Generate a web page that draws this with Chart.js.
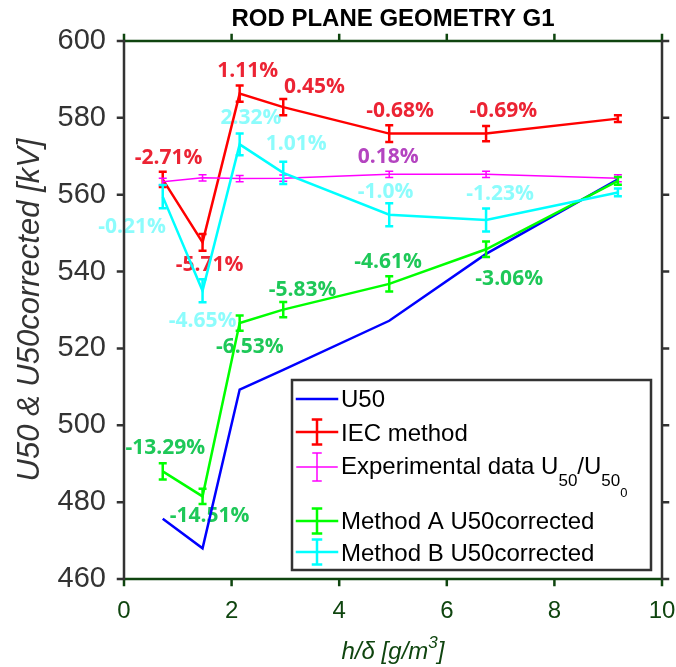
<!DOCTYPE html>
<html>
<head>
<meta charset="utf-8">
<title>Rod plane geometry G1</title>
<script src="https://cdn.jsdelivr.net/npm/chart.js@4.4.1/dist/chart.umd.min.js"></script>
<style>
  html, body { margin: 0; padding: 0; background: #fff; }
  canvas { display: block; }
</style>
</head>
<body>
<canvas id="chart" width="676" height="667"></canvas>
<script>
// h/δ of each test series [g/m3]
const hd = [0.72, 1.46, 2.15, 2.96, 4.93, 6.73, 9.18];

// U50 values [kV] and their error half-widths
const u50 = [475.7, 468.0, 509.3, 514.4, 527.2, 544.6, 564.0];
const iec = [564.0, 547.6, 586.3, 582.8, 575.9, 575.9, 579.8];
const iecErr = [2.0, 2.2, 2.1, 2.1, 2.2, 2.0, 0.9];
const experimental = [563.4, 564.4, 564.2, 564.3, 565.3, 565.3, 564.3];
const experimentalErr = [0.9, 0.8, 0.8, 0.8, 0.8, 0.8, 0.9];
const methodA = [488.0, 481.5, 526.6, 530.1, 536.8, 545.8, 563.6];
const methodAErr = [2.1, 2.0, 2.0, 2.0, 2.0, 2.0, 1.0];
const methodB = [559.5, 535.0, 573.1, 565.7, 554.8, 553.4, 560.6];
const methodBErr = [3.0, 3.0, 2.8, 2.9, 3.0, 3.0, 1.0];

const xTicks = [0, 2, 4, 6, 8, 10];
const yTicks = [460, 480, 500, 520, 540, 560, 580, 600];

// deviation notes: text, anchor in data units, colour
const noteText = ['-2.71%', '-5.71%', '1.11%', '0.45%', '-0.68%', '-0.69%',
                  '-0.21%', '-4.65%', '2.32%', '1.01%', '-1.0%', '-1.23%',
                  '0.18%',
                  '-13.29%', '-14.51%', '-6.53%', '-5.83%', '-4.61%', '-3.06%'];
const noteX = [0.83, 1.59, 2.30, 3.54, 5.13, 7.05,
               0.15, 1.46, 2.36, 3.20, 4.86, 6.99,
               4.91,
               0.77, 1.59, 2.34, 3.32, 4.91, 7.16];
const noteY = [569.6, 541.6, 592.2, 587.9, 581.7, 581.7,
               551.5, 527.2, 580.0, 573.1, 560.8, 560.1,
               569.8,
               494.1, 476.3, 520.3, 535.1, 542.4, 538.1];
const noteColor = ['#ec2434', '#ec2434', '#ec2434', '#ec2434', '#ec2434', '#ec2434',
                   '#8cfcfc', '#8cfcfc', '#8cfcfc', '#8cfcfc', '#8cfcfc', '#8cfcfc',
                   '#b444c0',
                   '#1ec858', '#1ec858', '#1ec858', '#1ec858', '#1ec858', '#1ec858'];

const AXIS_GREEN = '#0f450f';
const AXIS_GREY = '#333333';
const SANS = "'Liberation Sans', Arial, sans-serif";

function points(values) {
    return hd.map((x, i) => ({ x: x, y: values[i] }));
}

// error bars drawn right after their own line
const errorBars = {
    id: 'errorBars',
    afterDatasetDraw(chart, args) {
        const ds = chart.data.datasets[args.index];
        if (!ds.errors) return;
        const { ctx, scales: { x, y } } = chart;
        ctx.save();
        ctx.strokeStyle = ds.borderColor;
        ctx.lineWidth = ds.errorWidth;
        ds.data.forEach((p, i) => {
            const px = x.getPixelForValue(p.x);
            const top = y.getPixelForValue(p.y + ds.errors[i]);
            const bot = y.getPixelForValue(p.y - ds.errors[i]);
            ctx.beginPath();
            ctx.moveTo(px, top); ctx.lineTo(px, bot);
            ctx.moveTo(px - 4, top); ctx.lineTo(px + 4, top);
            ctx.moveTo(px - 4, bot); ctx.lineTo(px + 4, bot);
            ctx.stroke();
        });
        ctx.restore();
    }
};

// percentage notes sit under the lines
const notes = {
    id: 'notes',
    beforeDatasetsDraw(chart) {
        const { ctx, scales: { x, y } } = chart;
        ctx.save();
        ctx.font = "bold 21px 'Open Sans', sans-serif";
        ctx.textAlign = 'center';
        ctx.textBaseline = 'middle';
        noteText.forEach((t, i) => {
            ctx.fillStyle = noteColor[i];
            ctx.fillText(t, x.getPixelForValue(noteX[i]), y.getPixelForValue(noteY[i]));
        });
        ctx.restore();
    }
};

function drawSymbol(ctx, cx, cy, color, width, bar) {
    ctx.strokeStyle = color;
    ctx.lineWidth = width;
    ctx.beginPath();
    ctx.moveTo(cx - 20, cy); ctx.lineTo(cx + 20, cy);
    if (bar) {
        ctx.moveTo(cx, cy - bar); ctx.lineTo(cx, cy + bar);
        ctx.moveTo(cx - 4, cy - bar); ctx.lineTo(cx + 4, cy - bar);
        ctx.moveTo(cx - 4, cy + bar); ctx.lineTo(cx + 4, cy + bar);
    }
    ctx.stroke();
}

// writes text pieces one after another, each with its own size and shift
function runText(ctx, x, base, pieces, style) {
    let cx = x;
    pieces.forEach(([t, size, dy]) => {
        ctx.font = style + size + 'px ' + SANS;
        ctx.fillText(t, cx, base + dy);
        cx += ctx.measureText(t).width;
    });
    return cx - x;
}

// axes box with outward ticks, titles and the legend
const frame = {
    id: 'frame',
    afterDraw(chart) {
        const { ctx, chartArea: a, scales: { x, y } } = chart;
        ctx.save();
        ctx.lineWidth = 2.5;
        ctx.lineCap = 'square';

        ctx.strokeStyle = AXIS_GREEN;
        ctx.beginPath();
        ctx.moveTo(a.left, a.bottom); ctx.lineTo(a.right, a.bottom);
        ctx.moveTo(a.left, a.top); ctx.lineTo(a.right, a.top);
        xTicks.forEach(v => {
            const px = x.getPixelForValue(v);
            ctx.moveTo(px, a.bottom); ctx.lineTo(px, a.bottom + 6);
            ctx.moveTo(px, a.top); ctx.lineTo(px, a.top - 6);
        });
        ctx.stroke();

        ctx.strokeStyle = AXIS_GREY;
        ctx.beginPath();
        ctx.moveTo(a.left, a.top); ctx.lineTo(a.left, a.bottom);
        ctx.moveTo(a.right, a.top); ctx.lineTo(a.right, a.bottom);
        yTicks.forEach(v => {
            const py = y.getPixelForValue(v);
            ctx.moveTo(a.left, py); ctx.lineTo(a.left - 6, py);
            ctx.moveTo(a.right, py); ctx.lineTo(a.right + 6, py);
        });
        ctx.stroke();

        ctx.fillStyle = '#000';
        ctx.font = 'bold 24px ' + SANS;
        ctx.textAlign = 'center';
        ctx.textBaseline = 'middle';
        ctx.fillText('ROD PLANE GEOMETRY G1', (a.left + a.right) / 2, 19);

        // x axis title with superscript
        ctx.textAlign = 'left';
        ctx.textBaseline = 'alphabetic';
        ctx.fillStyle = AXIS_GREEN;
        const xTitle = [['h/δ [g/m', 24, 0], ['3', 17, -11], [']', 24, 0]];
        ctx.globalAlpha = 0;
        const tw = runText(ctx, 0, 0, xTitle, 'italic ');
        ctx.globalAlpha = 1;
        runText(ctx, (a.left + a.right) / 2 - tw / 2, 659, xTitle, 'italic ');

        // legend
        const lx = a.right - 370, ly = a.bottom - 199, lw = 359, lh = 190;
        ctx.fillStyle = '#fff';
        ctx.fillRect(lx, ly, lw, lh);
        ctx.strokeStyle = AXIS_GREY;
        ctx.lineWidth = 2.5;
        ctx.strokeRect(lx, ly, lw, lh);

        const sx = lx + 25, tx = lx + 49;
        const ds = chart.data.datasets;
        const rows = [19, 52, 87, 141, 172];
        ds.forEach((d, i) => {
            drawSymbol(ctx, sx, ly + rows[i], d.borderColor, d.borderWidth,
                d.errors ? (i === 2 ? 14 : 12.5) : 0);
        });

        ctx.fillStyle = '#000';
        ctx.font = '24px ' + SANS;
        ctx.fillText(ds[0].label, tx, ly + 27);
        ctx.fillText(ds[1].label, tx, ly + 61);
        ctx.fillText(ds[3].label, tx, ly + 149);
        ctx.fillText(ds[4].label, tx, ly + 181);

        // Experimental data U50/U50_0 with subscripts
        runText(ctx, tx, ly + 94, [
            ['Experimental data U', 24, 0], ['50', 17, 12],
            ['/U', 24, 0], ['50', 17, 12], ['0', 13, 23]
        ], '');

        ctx.restore();
    }
};

new Chart(document.getElementById('chart'), {
    type: 'line',
    data: {
        datasets: [
            { label: 'U50', data: points(u50), borderColor: '#0000ff', borderWidth: 2.5, order: 5 },
            { label: 'IEC method', data: points(iec), errors: iecErr, errorWidth: 2.5,
              borderColor: '#ff0000', borderWidth: 2.5, order: 4 },
            { label: 'Experimental data U50/U50_0', data: points(experimental), errors: experimentalErr,
              errorWidth: 1.5, borderColor: '#ff00ff', borderWidth: 1.5, order: 3 },
            { label: 'Method A U50corrected', data: points(methodA), errors: methodAErr, errorWidth: 2.5,
              borderColor: '#00ff00', borderWidth: 2.5, order: 2 },
            { label: 'Method B U50corrected', data: points(methodB), errors: methodBErr, errorWidth: 2.5,
              borderColor: '#00ffff', borderWidth: 2.5, order: 1 }
        ]
    },
    options: {
        responsive: false,
        animation: false,
        clip: false,
        layout: { padding: { left: 0, top: 41, right: 14, bottom: 0 } },
        elements: { point: { radius: 0 }, line: { tension: 0, fill: false } },
        plugins: { legend: { display: false }, tooltip: { enabled: false }, title: { display: false } },
        scales: {
            x: {
                type: 'linear', min: 0, max: 10,
                afterBuildTicks: s => { s.ticks = xTicks.map(v => ({ value: v })); },
                afterFit: s => { s.height = 88; s.paddingLeft = 0; s.paddingRight = 0; },
                grid: { display: false }, border: { display: false },
                ticks: { color: AXIS_GREEN, padding: 10, font: { family: SANS, size: 24 } },
                title: { display: false }
            },
            y: {
                min: 460, max: 600,
                afterBuildTicks: s => { s.ticks = yTicks.map(v => ({ value: v })); },
                afterFit: s => { s.width = 124; s.paddingTop = 0; s.paddingBottom = 0; },
                grid: { display: false }, border: { display: false },
                ticks: { color: AXIS_GREY, padding: 10, font: { family: SANS, size: 29 } },
                title: {
                    display: true, text: 'U50 & U50corrected [kV]', color: AXIS_GREY,
                    font: { family: SANS, size: 31, style: 'italic' },
                    padding: { top: 12, bottom: 0 }
                }
            }
        }
    },
    plugins: [notes, errorBars, frame]
});
</script>
</body>
</html>
